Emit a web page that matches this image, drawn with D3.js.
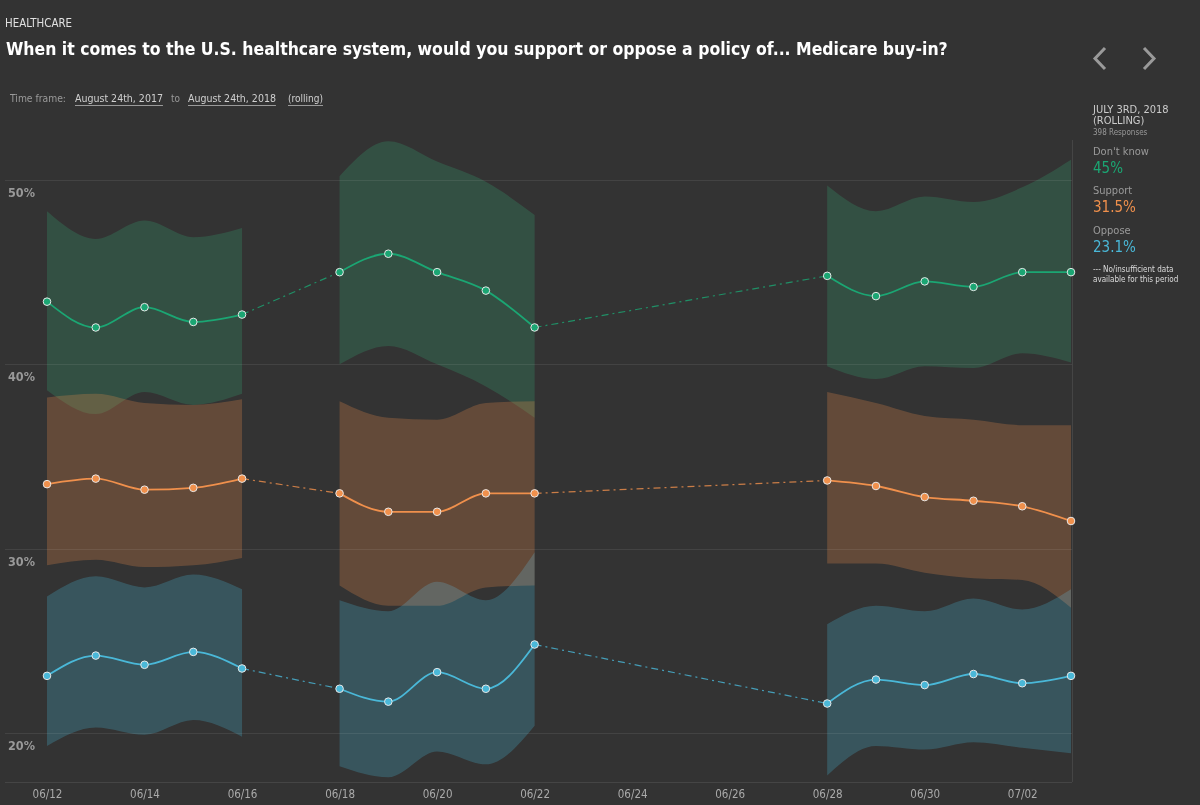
<!DOCTYPE html>
<html>
<head>
<meta charset="utf-8">
<script src="https://cdn.jsdelivr.net/npm/d3@7"></script>
<style>
  html, body { margin: 0; padding: 0; background: #333333; }
  svg { display: block; }
  text { font-family: "Liberation Sans Narrow", "DejaVu Sans Condensed", "Liberation Sans", sans-serif; }
</style>
</head>
<body>
<svg id="chart" width="1200" height="805"></svg>
<script>
// ---------------- DATA ----------------
const dates = ["2018-06-12","2018-06-13","2018-06-14","2018-06-15","2018-06-16",
               "2018-06-18","2018-06-19","2018-06-20","2018-06-21","2018-06-22",
               "2018-06-28","2018-06-29","2018-06-30","2018-07-01","2018-07-02","2018-07-03"];
const segments = [0,0,0,0,0, 1,1,1,1,1, 2,2,2,2,2,2];

const dontKnow   = [43.4,42.0,43.1,42.3,42.7, 45.0,46.0,45.0,44.0,42.0, 44.8,43.7,44.5,44.2,45.0,45.0];
const dontKnowHi = [48.3,46.8,47.8,46.9,47.4, 50.2,52.1,51.0,49.9,48.1, 49.7,48.3,49.1,48.8,49.6,51.1];
const dontKnowLo = [38.6,37.3,38.5,37.8,38.4, 40.0,41.0,40.0,38.8,37.1, 39.9,39.2,39.9,39.8,40.6,40.1];

const support    = [33.5,33.8,33.2,33.3,33.8, 33.0,32.0,32.0,33.0,33.0, 33.7,33.4,32.8,32.6,32.3,31.5];
const supportHi  = [38.2,38.4,37.9,37.8,38.1, 38.0,37.1,37.0,37.9,38.0, 38.5,37.9,37.2,37.0,36.7,36.7];
const supportLo  = [29.1,29.4,29.0,29.1,29.5, 28.0,26.9,26.9,27.9,28.0, 29.2,29.2,28.7,28.4,28.3,26.8];

const oppose     = [23.1,24.2,23.7,24.4,23.5, 22.4,21.7,23.3,22.4,24.8, 21.6,22.9,22.6,23.2,22.7,23.1];
const opposeHi   = [27.4,28.5,27.9,28.6,27.8, 27.2,26.6,28.2,27.2,29.8, 25.9,26.9,26.6,27.3,26.7,27.8];
const opposeLo   = [19.3,20.3,19.9,20.7,19.8, 18.2,17.6,19.0,18.3,20.4, 17.7,19.3,19.1,19.5,19.2,18.9];

const yTicks = [20, 30, 40, 50];
const xTickDates = ["2018-06-12","2018-06-14","2018-06-16","2018-06-18","2018-06-20","2018-06-22",
                    "2018-06-24","2018-06-26","2018-06-28","2018-06-30","2018-07-02"];

const seriesNames  = ["Don't know", "Support", "Oppose"];
const seriesLatest = ["45%", "31.5%", "23.1%"];
const seriesColors = ["#1ba673", "#f0904c", "#4ab8d8"];

// ---------------- SETUP ----------------
const parse = d3.timeParse("%Y-%m-%d");
const fmt = d3.timeFormat("%m/%d");
const svg = d3.select("#chart");
const W = 1200, H = 805;

svg.append("rect").attr("width", W).attr("height", H).attr("fill", "#333333");

const x = d3.scaleTime()
  .domain([parse("2018-06-12"), parse("2018-07-03")])
  .range([47, 1071]);
const y = d3.scaleLinear().domain([20, 50]).range([733, 180]);

const plotLeft = 5, plotRight = 1072, plotBottom = 782, plotTop = 140;

// fit a text to a target width by adjusting its font-size (capped)
function fitWidth(sel, target, maxSize) {
  const fs = +sel.attr("font-size");
  const w = sel.node().getComputedTextLength();
  let nfs = fs * target / w;
  if (maxSize && nfs > maxSize) nfs = maxSize;
  sel.attr("font-size", nfs);
  return sel;
}

const series = [
  { name: seriesNames[0], vals: dontKnow, hi: dontKnowHi, lo: dontKnowLo, color: seriesColors[0] },
  { name: seriesNames[1], vals: support,  hi: supportHi,  lo: supportLo,  color: seriesColors[1] },
  { name: seriesNames[2], vals: oppose,   hi: opposeHi,   lo: opposeLo,   color: seriesColors[2] }
];

const segIds = Array.from(new Set(segments));

// ---------------- BANDS ----------------
const area = d3.area()
  .x(d => x(d.date)).y0(d => y(d.lo)).y1(d => y(d.hi))
  .curve(d3.curveMonotoneX);

const bandG = svg.append("g");
series.forEach(s => {
  segIds.forEach(sg => {
    const pts = dates.map((d, i) => ({ date: parse(d), hi: s.hi[i], lo: s.lo[i], seg: segments[i] }))
      .filter(p => p.seg === sg);
    bandG.append("path")
      .attr("d", area(pts))
      .attr("fill", s.color)
      .attr("fill-opacity", 0.26)
      .style("mix-blend-mode", "lighten");
  });
});

// ---------------- GRID ----------------
const gridG = svg.append("g");
yTicks.forEach(t => {
  gridG.append("line")
    .attr("x1", plotLeft).attr("x2", plotRight)
    .attr("y1", Math.round(y(t)) + 0.5).attr("y2", Math.round(y(t)) + 0.5)
    .attr("stroke", "#ffffff").attr("stroke-opacity", 0.08).attr("stroke-width", 1);
  const lab = gridG.append("text")
    .attr("x", 8).attr("y", y(t) + 17)
    .attr("fill", "#999999").attr("font-size", 14).attr("font-weight", "bold")
    .text(t + "%");
  fitWidth(lab, 27, 15);
});
// bottom axis line and right border
gridG.append("line")
  .attr("x1", plotLeft).attr("x2", plotRight)
  .attr("y1", plotBottom + 0.5).attr("y2", plotBottom + 0.5)
  .attr("stroke", "#ffffff").attr("stroke-opacity", 0.09);
gridG.append("line")
  .attr("x1", plotRight + 0.5).attr("x2", plotRight + 0.5)
  .attr("y1", plotTop).attr("y2", plotBottom)
  .attr("stroke", "#ffffff").attr("stroke-opacity", 0.09);

// x axis labels
const xAxis = d3.axisBottom(x)
  .tickValues(xTickDates.map(parse))
  .tickFormat(fmt)
  .tickSize(0)
  .tickPadding(0);
const xAxisG = svg.append("g").attr("transform", `translate(0, ${plotBottom})`).call(xAxis);
xAxisG.select(".domain").remove();
xAxisG.selectAll("text")
  .attr("y", 16).attr("dy", 0)
  .attr("fill", "#aaaaaa").attr("font-size", 11.5)
  .style("font-family", "'Liberation Sans Narrow', 'DejaVu Sans Condensed', sans-serif");

// ---------------- CONNECTORS ----------------
const connG = svg.append("g");
series.forEach(s => {
  for (let k = 0; k < segIds.length - 1; k++) {
    const lastIdx = segments.lastIndexOf(segIds[k]);
    const firstIdx = segments.indexOf(segIds[k + 1]);
    connG.append("line")
      .attr("x1", x(parse(dates[lastIdx]))).attr("y1", y(s.vals[lastIdx]))
      .attr("x2", x(parse(dates[firstIdx]))).attr("y2", y(s.vals[firstIdx]))
      .attr("stroke", s.color).attr("stroke-opacity", 0.8)
      .attr("stroke-width", 1.2)
      .attr("stroke-dasharray", "7,4,2,4");
  }
});

// ---------------- LINES & DOTS ----------------
const line = d3.line().x(d => x(d.date)).y(d => y(d.v)).curve(d3.curveMonotoneX);
const lineG = svg.append("g");
series.forEach(s => {
  segIds.forEach(sg => {
    const pts = dates.map((d, i) => ({ date: parse(d), v: s.vals[i], seg: segments[i] }))
      .filter(p => p.seg === sg);
    lineG.append("path")
      .attr("d", line(pts))
      .attr("fill", "none")
      .attr("stroke", s.color)
      .attr("stroke-width", 1.8);
  });
});
series.forEach(s => {
  lineG.selectAll(null)
    .data(dates.map((d, i) => ({ date: parse(d), v: s.vals[i] })))
    .join("circle")
    .attr("cx", d => x(d.date)).attr("cy", d => y(d.v))
    .attr("r", 3.8)
    .attr("fill", s.color)
    .attr("stroke", "#e8e8e8").attr("stroke-width", 1);
});

// ---------------- HEADER ----------------
const hc = svg.append("text").attr("x", 5).attr("y", 27)
  .attr("fill", "#e0e0e0").attr("font-size", 12)
  .text("HEALTHCARE");
fitWidth(hc, 67, 13);

const title = svg.append("text").attr("x", 6).attr("y", 55)
  .attr("fill", "#ffffff").attr("font-size", 23).attr("font-weight", "bold")
  .text("When it comes to the U.S. healthcare system, would you support or oppose a policy of... Medicare buy-in?");
fitWidth(title, 942, 26);

// time frame row
const tf = svg.append("g");
function tfText(xp, txt, col, underline, width) {
  const t = tf.append("text").attr("x", xp).attr("y", 102).attr("fill", col)
    .attr("font-size", 11).text(txt);
  fitWidth(t, width, 12);
  if (underline) {
    const w = t.node().getComputedTextLength();
    tf.append("line").attr("x1", xp).attr("x2", xp + w)
      .attr("y1", 105.5).attr("y2", 105.5)
      .attr("stroke", "#9a9a9a").attr("stroke-width", 1);
  }
}
tfText(10, "Time frame:", "#9a9a9a", false, 56);
tfText(75, "August 24th, 2017", "#d0d0d0", true, 88);
tfText(171, "to", "#9a9a9a", false, 9);
tfText(188, "August 24th, 2018", "#d0d0d0", true, 88);
tfText(288, "(rolling)", "#d0d0d0", true, 35);

// chevrons
svg.append("path").attr("d", "M1105,48 L1095,58.5 L1105,69")
  .attr("fill", "none").attr("stroke", "#9a9a9a").attr("stroke-width", 3);
svg.append("path").attr("d", "M1144,48 L1154,58.5 L1144,69")
  .attr("fill", "none").attr("stroke", "#9a9a9a").attr("stroke-width", 3);

// ---------------- LEGEND ----------------
const lg = svg.append("g").style("font-family", "'Liberation Sans', Arial, sans-serif");
lg.append("text").attr("x", 1093).attr("y", 113).attr("fill", "#cccccc").attr("font-size", 11).text("JULY 3RD, 2018");
lg.append("text").attr("x", 1093).attr("y", 124).attr("fill", "#cccccc").attr("font-size", 11).text("(ROLLING)");
lg.append("text").attr("x", 1093).attr("y", 135).attr("fill", "#999999").attr("font-size", 8).text("398 Responses");
const legendY = [155, 194, 234];
series.forEach((s, i) => {
  lg.append("text").attr("x", 1093).attr("y", legendY[i]).attr("fill", "#9a9a9a").attr("font-size", 11).text(s.name);
  lg.append("text").attr("x", 1093).attr("y", legendY[i] + 18).attr("fill", s.color).attr("font-size", 15).text(seriesLatest[i]);
});
lg.append("text").attr("x", 1093).attr("y", 272).attr("fill", "#dddddd").attr("font-size", 8).text("--- No/insufficient data");
lg.append("text").attr("x", 1093).attr("y", 282).attr("fill", "#dddddd").attr("font-size", 8).text("available for this period");
</script>
</body>
</html>
